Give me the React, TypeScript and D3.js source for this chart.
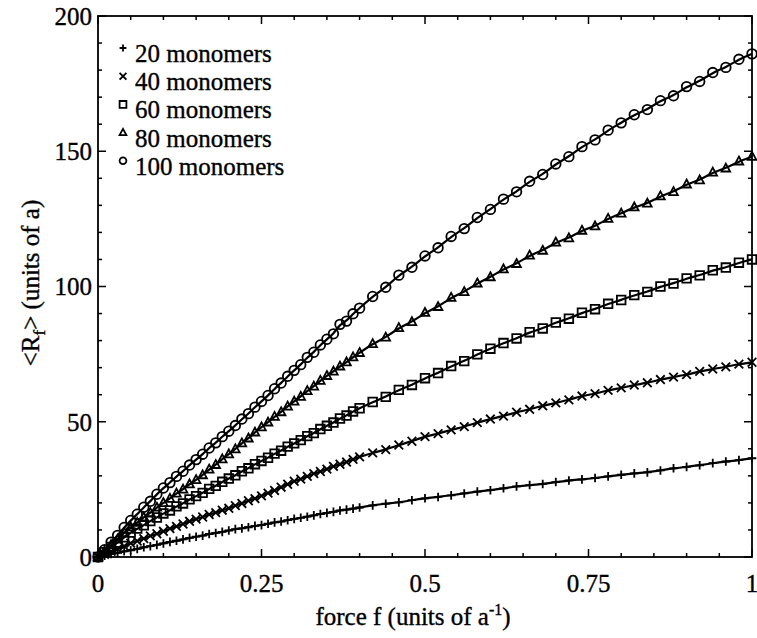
import React from "react";
import * as d3 from "d3";

// force values (units of 1/a): dense sampling below 0.4, coarser above
const forces = [
  0, 0.01, 0.02, 0.03, 0.04, 0.05, 0.06, 0.07, 0.08, 0.09,
  0.1, 0.11, 0.12, 0.13, 0.14, 0.15, 0.16, 0.17, 0.18, 0.19,
  0.2, 0.21, 0.22, 0.23, 0.24, 0.25, 0.26, 0.27, 0.28, 0.29,
  0.3, 0.31, 0.32, 0.33, 0.34, 0.35, 0.36, 0.37, 0.38, 0.39,
  0.4,
  0.42, 0.44, 0.46, 0.48, 0.5, 0.52, 0.54, 0.56, 0.58, 0.6,
  0.62, 0.64, 0.66, 0.68, 0.7, 0.72, 0.74, 0.76, 0.78, 0.8,
  0.82, 0.84, 0.86, 0.88, 0.9, 0.92, 0.94, 0.96, 0.98, 1.0,
];

// <R_f> for each chain length
const r20 = [
  0, 0.5, 1.1, 1.5, 2.1, 2.5, 3.0, 3.6, 4.0, 4.5,
  5.0, 5.6, 6.0, 6.5, 7.1, 7.5, 7.9, 8.5, 8.9, 9.3,
  9.8, 10.3, 10.6, 11.0, 11.5, 11.8, 12.3, 12.8, 13.1, 13.6,
  14.1, 14.5, 14.9, 15.4, 15.9, 16.3, 16.7, 17.2, 17.5, 17.9,
  18.3,
  19.1, 19.7, 20.2, 21.0, 21.7, 22.2, 22.8, 23.5, 24.2, 24.7,
  25.4, 26.1, 26.6, 27.0, 27.7, 28.3, 28.7, 29.2, 29.8, 30.4,
  30.9, 31.3, 32.0, 32.8, 33.3, 33.9, 34.7, 35.3, 35.8, 36.5,
];
const r40 = [
  0, 1.0, 2.1, 3.0, 4.0, 5.1, 5.9, 6.8, 7.8, 8.6,
  9.5, 10.5, 11.3, 12.2, 13.2, 14.0, 14.8, 15.7, 16.4, 17.3,
  18.0, 19.0, 19.8, 20.8, 21.6, 22.6, 23.6, 24.6, 25.8, 26.9,
  28.0, 28.8, 29.8, 30.8, 31.6, 32.5, 33.5, 34.3, 35.1, 36.1,
  37.0,
  38.5, 39.7, 41.4, 42.8, 44.5, 45.6, 47.0, 48.2, 49.7, 51.0,
  52.1, 53.5, 54.6, 55.9, 57.0, 58.1, 59.5, 60.4, 61.6, 62.5,
  63.6, 64.4, 65.6, 66.5, 67.4, 68.6, 69.5, 70.3, 71.3, 72.0,
];
const r60 = [
  0, 1.8, 3.7, 5.3, 7.3, 9.0, 10.5, 11.7, 13.3, 14.6,
  16.1, 17.2, 18.7, 19.8, 21.3, 22.5, 23.7, 25.2, 26.3, 27.8,
  29.0, 30.2, 31.7, 32.8, 34.3, 35.5, 36.7, 38.2, 39.3, 40.8,
  42.0, 43.2, 44.7, 45.8, 47.3, 48.5, 49.7, 51.2, 52.3, 53.8,
  55.0,
  57.3, 59.2, 61.8, 63.6, 66.1, 68.0, 70.6, 72.4, 74.9, 77.0,
  79.1, 80.8, 83.1, 84.5, 86.7, 88.1, 90.3, 91.6, 93.6, 95.0,
  96.8, 98.0, 100.0, 101.1, 103.0, 104.1, 106.0, 107.0, 108.8, 110.0,
];
const r80 = [
  0, 2.2, 4.5, 6.5, 8.9, 11.0, 12.7, 14.7, 16.3, 18.3,
  20.0, 21.6, 23.5, 25.0, 26.9, 28.5, 30.3, 32.4, 34.1, 36.2,
  38.0, 39.9, 42.1, 43.9, 46.1, 48.0, 49.8, 51.9, 53.6, 55.7,
  57.5, 59.3, 61.4, 63.1, 65.2, 67.0, 68.6, 70.5, 72.0, 73.9,
  75.5,
  78.8, 81.2, 84.7, 86.9, 90.3, 92.5, 95.9, 98.0, 101.2, 103.5,
  106.4, 108.4, 111.5, 113.3, 116.3, 117.9, 120.7, 122.3, 125.1, 127.0,
  129.3, 130.7, 133.4, 135.0, 137.8, 139.3, 142.2, 143.7, 146.3, 148.0,
];
const r100 = [
  0, 2.7, 5.5, 8.0, 10.9, 13.5, 15.8, 18.4, 20.6, 23.2,
  25.5, 27.5, 29.8, 31.7, 34.0, 36.0, 38.0, 40.3, 42.2, 44.5,
  46.5, 48.6, 51.0, 53.0, 55.4, 57.5, 59.7, 62.2, 64.3, 66.8,
  69.0, 71.1, 73.8, 75.7, 78.4, 80.5, 82.5, 86.0, 87.2, 89.9,
  92.0,
  96.3, 99.7, 104.2, 107.1, 111.3, 114.3, 118.5, 121.4, 125.5, 128.5,
  132.3, 135.0, 138.9, 141.4, 145.3, 148.0, 151.7, 154.2, 157.8, 160.5,
  163.5, 165.4, 168.7, 170.5, 173.9, 175.8, 179.1, 181.0, 184.0, 186.0,
];

const seriesLabels = ["20 monomers", "40 monomers", "60 monomers", "80 monomers", "100 monomers"];
const seriesMarkers = ["plus", "cross", "square", "triangle", "circle"];
const seriesValues = [r20, r40, r60, r80, r100];

const xTicks = [0, 0.25, 0.5, 0.75, 1];
const xTickLabels = ["0", "0.25", "0.5", "0.75", "1"];
const yTicks = [0, 50, 100, 150, 200];

const FONT = "Liberation Serif, Times New Roman, serif";
const textStyle = { fontFamily: FONT, stroke: "#000", strokeWidth: 0.35 };

// marker outline path centred on 0,0
function markerPath(type: string, s: number) {
  switch (type) {
    case "plus":
      return `M${-s},0H${s}M0,${-s}V${s}`;
    case "cross":
      return `M${-s},${-s}L${s},${s}M${-s},${s}L${s},${-s}`;
    case "square":
      return `M${-s},${-s}H${s}V${s}H${-s}Z`;
    case "triangle":
      return `M0,${-s * 1.1}L${s},${s * 0.75}H${-s}Z`;
    default:
      return d3.arc()({ innerRadius: 0, outerRadius: s, startAngle: 0, endAngle: 2 * Math.PI }) as string;
  }
}

export default function App() {
  const width = 757;
  const height = 638;

  const x = d3.scaleLinear().domain([0, 1]).range([98, 752]);
  const y = d3.scaleLinear().domain([0, 200]).range([557, 16]);

  const line = d3
    .line<number>()
    .x((_, i) => x(forces[i]))
    .y((d) => y(d))
    .curve(d3.curveBasis);

  const xMinor = d3.range(0, 1.0001, 0.05);
  const yMinor = d3.range(0, 200.001, 10);

  const [x0, x1] = x.range();
  const [y0, y1] = y.range();

  return (
    <svg
      width={width}
      height={height}
      style={{ position: "absolute", left: 0, top: 0, background: "#fff" }}
    >
      <rect width={width} height={height} fill="#fff" />

      {/* ticks, inward on all four sides */}
      <g stroke="#000" strokeWidth={1.5}>
        {xMinor.map((t, i) => {
          const len = i % 5 === 0 ? 8 : 4;
          return (
            <g key={"xt" + i}>
              <line x1={x(t)} x2={x(t)} y1={y0} y2={y0 - len} />
              <line x1={x(t)} x2={x(t)} y1={y1} y2={y1 + len} />
            </g>
          );
        })}
        {yMinor.map((t, i) => {
          const len = i % 5 === 0 ? 8 : 4;
          return (
            <g key={"yt" + i}>
              <line x1={x0} x2={x0 + len} y1={y(t)} y2={y(t)} />
              <line x1={x1} x2={x1 - len} y1={y(t)} y2={y(t)} />
            </g>
          );
        })}
      </g>

      {/* frame */}
      <rect x={x0} y={y1} width={x1 - x0} height={y0 - y1} fill="none" stroke="#000" strokeWidth={1.8} />

      {/* tick labels */}
      <g fontSize={25} fill="#000" style={textStyle}>
        {xTicks.map((t, i) => (
          <text key={"xl" + i} x={x(t)} y={592} textAnchor="middle">
            {xTickLabels[i]}
          </text>
        ))}
        {yTicks.map((t) => (
          <text key={"yl" + t} x={92} y={y(t)} dy="0.35em" textAnchor="end">
            {t}
          </text>
        ))}
      </g>

      {/* series */}
      {seriesValues.map((vals, si) => (
        <g key={"s" + si}>
          <path d={line(vals) as string} fill="none" stroke="#000" strokeWidth={2.2} />
          {vals.map((v, i) => (
            <path
              key={i}
              transform={`translate(${x(forces[i])},${y(v)})`}
              d={markerPath(seriesMarkers[si], seriesMarkers[si] === "circle" ? 4.8 : 4.3)}
              fill="none"
              stroke="#000"
              strokeWidth={1.8}
            />
          ))}
        </g>
      ))}

      {/* legend */}
      <g fontSize={25} fill="#000" style={textStyle}>
        {seriesLabels.map((label, i) => {
          const base = 62 + i * 28.2;
          return (
            <g key={"lg" + i}>
              <path
                transform={`translate(123,${base - 14})`}
                d={markerPath(seriesMarkers[i], 3.4)}
                fill="none"
                stroke="#000"
                strokeWidth={1.8}
              />
              <text x={135} y={base}>
                {label}
              </text>
            </g>
          );
        })}
      </g>

      {/* axis titles */}
      <g fill="#000" style={textStyle}>
        <text x={413} y={625} fontSize={25} textAnchor="middle">
          force f (units of a
          <tspan dy={-10} fontSize={16}>-1</tspan>
          <tspan dy={10}>)</tspan>
        </text>
        <text transform="translate(39,283) rotate(-90)" fontSize={25} textAnchor="middle">
          &lt;R<tspan dy={6} fontSize={17}>f</tspan>
          <tspan dy={-6}>&gt; (units of a)</tspan>
        </text>
      </g>
    </svg>
  );
}
